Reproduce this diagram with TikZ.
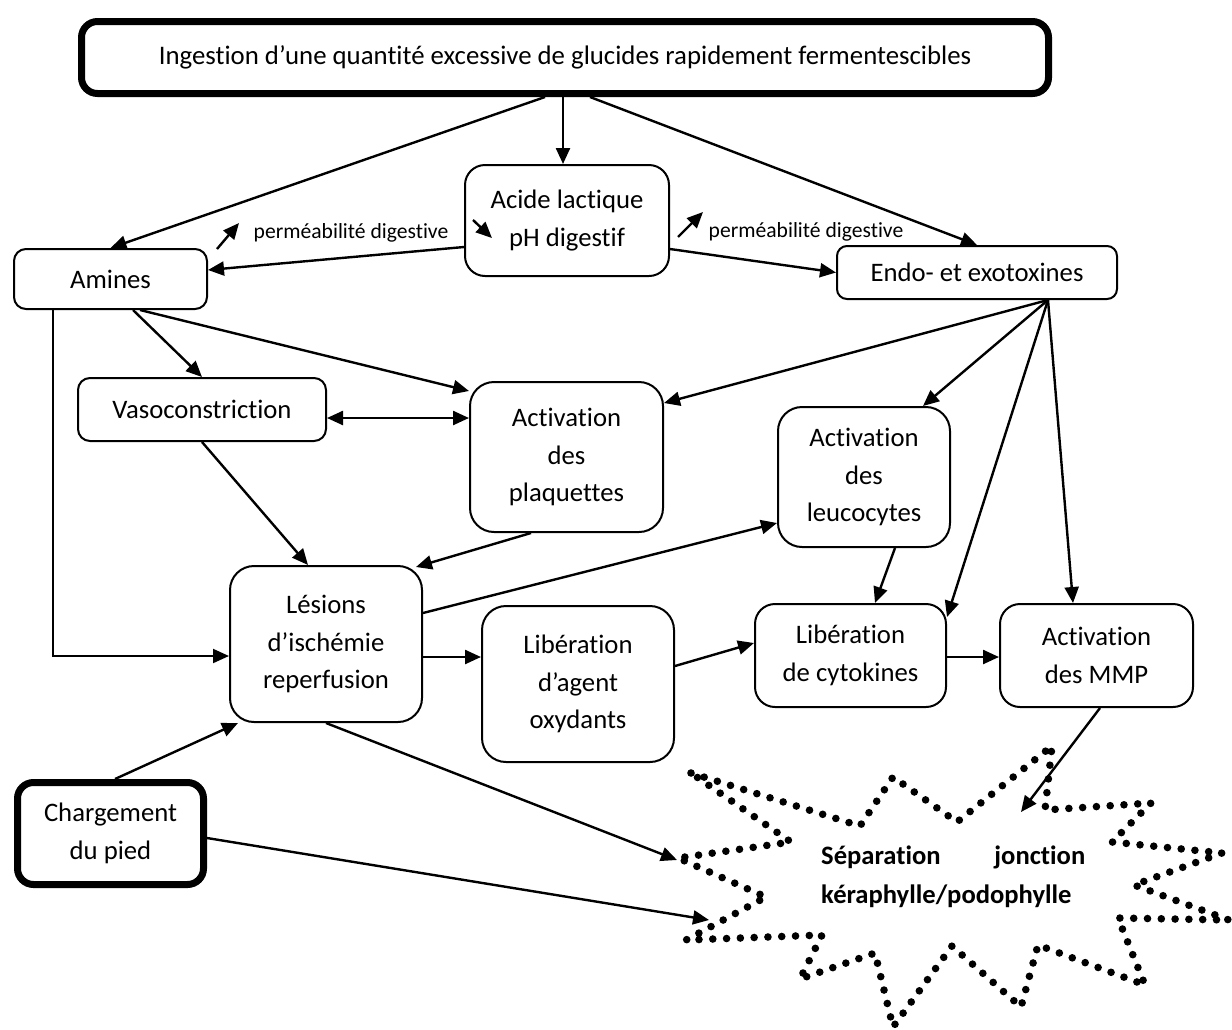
\documentclass[tikz,border=0pt]{standalone}
\usepackage{fontspec}
\setmainfont{Carlito}[Ligatures=NoCommon]
\usetikzlibrary{arrows.meta}

\tikzset{
  box/.style={draw, line width=2pt, rounded corners=12pt, inner sep=0pt,
    align=center, font=\fontsize{26.7}{37.5}\selectfont},
  tallbox/.style={box, rounded corners=24pt},
  thickbox/.style={box, line width=7pt, rounded corners=16pt},
  arr/.style={line width=2.4pt, -{Triangle[length=16pt,width=14pt]}},
  dblarr/.style={line width=2.4pt, {Triangle[length=16pt,width=14pt]}-{Triangle[length=16pt,width=14pt]}},
  smalllabel/.style={font=\fontsize{21.6}{25}\selectfont, inner sep=0pt},
  dotline/.style={line width=7.6pt, line cap=round, dash pattern=on 0pt off 13.8pt},
}

\begin{document}
\begin{tikzpicture}[x=1pt, y=-1pt]
\useasboundingbox (0,0) rectangle (1232,1029);

% boxes
\node[thickbox, minimum width=967pt, minimum height=72pt, font=\fontsize{26.8}{30}\selectfont] (top) at (565,57.5)
  {Ingestion d’une quantité excessive de glucides rapidement fermentescibles};
\node[tallbox, rounded corners=20pt, minimum width=204pt, minimum height=111pt] (acide) at (567,220.5)
  {Acide lactique\\pH digestif};
\node[box, minimum width=193pt, minimum height=60pt] (amines) at (110.5,279) {Amines};
\node[box, rounded corners=10pt, minimum width=280pt, minimum height=53pt] (endo) at (977,272.5) {Endo- et exotoxines};
\node[box, minimum width=248pt, minimum height=63pt] (vaso) at (202,409.5) {Vasoconstriction};
\node[tallbox, minimum width=193pt, minimum height=150pt] (plaq) at (566.5,457) {Activation\\des\\plaquettes};
\node[tallbox, minimum width=172pt, minimum height=140pt] (leuco) at (864,477) {Activation\\des\\leucocytes};
\node[tallbox, minimum width=192pt, minimum height=156pt] (lesions) at (326,644) {Lésions\\d’ischémie\\reperfusion};
\node[tallbox, minimum width=192pt, minimum height=156pt] (agent) at (578,684) {Libération\\d’agent\\oxydants};
\node[tallbox, rounded corners=20pt, minimum width=191pt, minimum height=103pt] (cyto) at (850.5,655.5) {Libération\\de cytokines};
\node[tallbox, rounded corners=20pt, minimum width=193pt, minimum height=103pt] (mmp) at (1096.5,655.5) {Activation\\des MMP};
\node[thickbox, minimum width=186pt, minimum height=102pt] (charg) at (110.5,833.5) {Chargement\\du pied};

% labels beside the digestive permeability arrows
\node[smalllabel] (permL) at (351,233) {perméabilité digestive};
\node[smalllabel] (permR) at (806,232) {perméabilité digestive};

% starburst outline
\draw[dotline] (691,773) -- (860,826) -- (893,777) -- (957,822) -- (1052,746)
  -- (1045,810) -- (1151,803) -- (1112,842) -- (1222,853) -- (1134,885)
  -- (1229,920) -- (1118,918) -- (1145,985) -- (1038,945) -- (1021,1007)
  -- (952,946) -- (893,1027) -- (875,953) -- (800,979) -- (822,935)
  -- (686,940) -- (766,897) -- (678,858) -- (791,842) -- cycle;
\node[anchor=west, align=left, text width=264pt, inner sep=0pt,
  font=\bfseries\fontsize{26.6}{39}\selectfont] (sep) at (821,877)
  {Séparation\hfill jonction\\kéraphylle/podophylle};

% arrow ends on the starburst
\coordinate (s1) at (1021,812);
\coordinate (s2) at (677,860);
\coordinate (s3) at (709,920);

% small up/down arrows
\coordinate (ua1) at (217,249); \coordinate (ua2) at (239,223);
\coordinate (ub1) at (678,237); \coordinate (ub2) at (703,212);
\coordinate (dc1) at (473,220); \coordinate (dc2) at (492,238);
\draw[arr] (ua1) -- (ua2);
\draw[arr] (ub1) -- (ub2);
\draw[arr] (dc1) -- (dc2);

% connectors
\draw[arr] ([xshift=-2pt]top.south) -- ([xshift=-2pt]top.south |- acide.north);
\draw[arr] ([xshift=-20pt]top.south) -- (amines.north);
\draw[arr] ([xshift=25pt]top.south) -- (endo.north);
\draw[arr] ([yshift=-26.5pt]acide.west) -- ([yshift=9pt]amines.east);
\draw[arr] ([yshift=-28.5pt]acide.east) -- (endo.west);
\draw[arr] ([xshift=22.5pt]amines.south) -- (vaso.north);
\draw[arr] ([xshift=29.5pt]amines.south) -- ([yshift=-10pt]plaq.north west);
\coordinate (v1) at ([yshift=-8.5pt]vaso.east);
\draw[dblarr] (v1) -- (v1 -| plaq.west);

\coordinate (fan) at ([xshift=71pt]endo.south);
\draw[arr] (fan) -- ([yshift=54pt]plaq.east);
\draw[arr] (fan) -- ([xshift=59pt]leuco.north);
\draw[arr] (fan) -- ([yshift=-14pt]cyto.north east);
\draw[arr] (fan) -- ([xshift=-23.5pt]mmp.north);

\draw[line width=2pt, -{Triangle[length=16pt,width=14pt]}]
  ([xshift=-57.5pt]amines.south) |- ([yshift=-12pt]lesions.west);
\draw[arr] (vaso.south) -- ([xshift=-18pt]lesions.north);
\draw[arr] ([xshift=-35.5pt]plaq.south) -- ([shift={(-7pt,-2pt)}]lesions.north east);
\draw[arr] ([yshift=31pt]lesions.east) -- ([yshift=-46pt]leuco.west);
\draw[arr] ([xshift=31pt]leuco.south) -- ([xshift=24.5pt]cyto.north);
\coordinate (l2) at ([yshift=-13pt]lesions.east);
\draw[arr] (l2) -- (l2 -| agent.west);
\draw[arr] ([yshift=18pt]agent.east) -- ([yshift=12.5pt]cyto.west);
\coordinate (c2) at ([yshift=-1.5pt]cyto.east);
\draw[arr] (c2) -- (c2 -| mmp.west);

\draw[arr] ([xshift=3.5pt]mmp.south) -- (s1);
\draw[arr] (lesions.south) -- (s2);
\draw[arr] ([xshift=4.5pt]charg.north) -- ([xshift=9pt]lesions.south west);
\draw[arr] ([yshift=-4.5pt]charg.east) -- (s3);
\end{tikzpicture}
\end{document}
